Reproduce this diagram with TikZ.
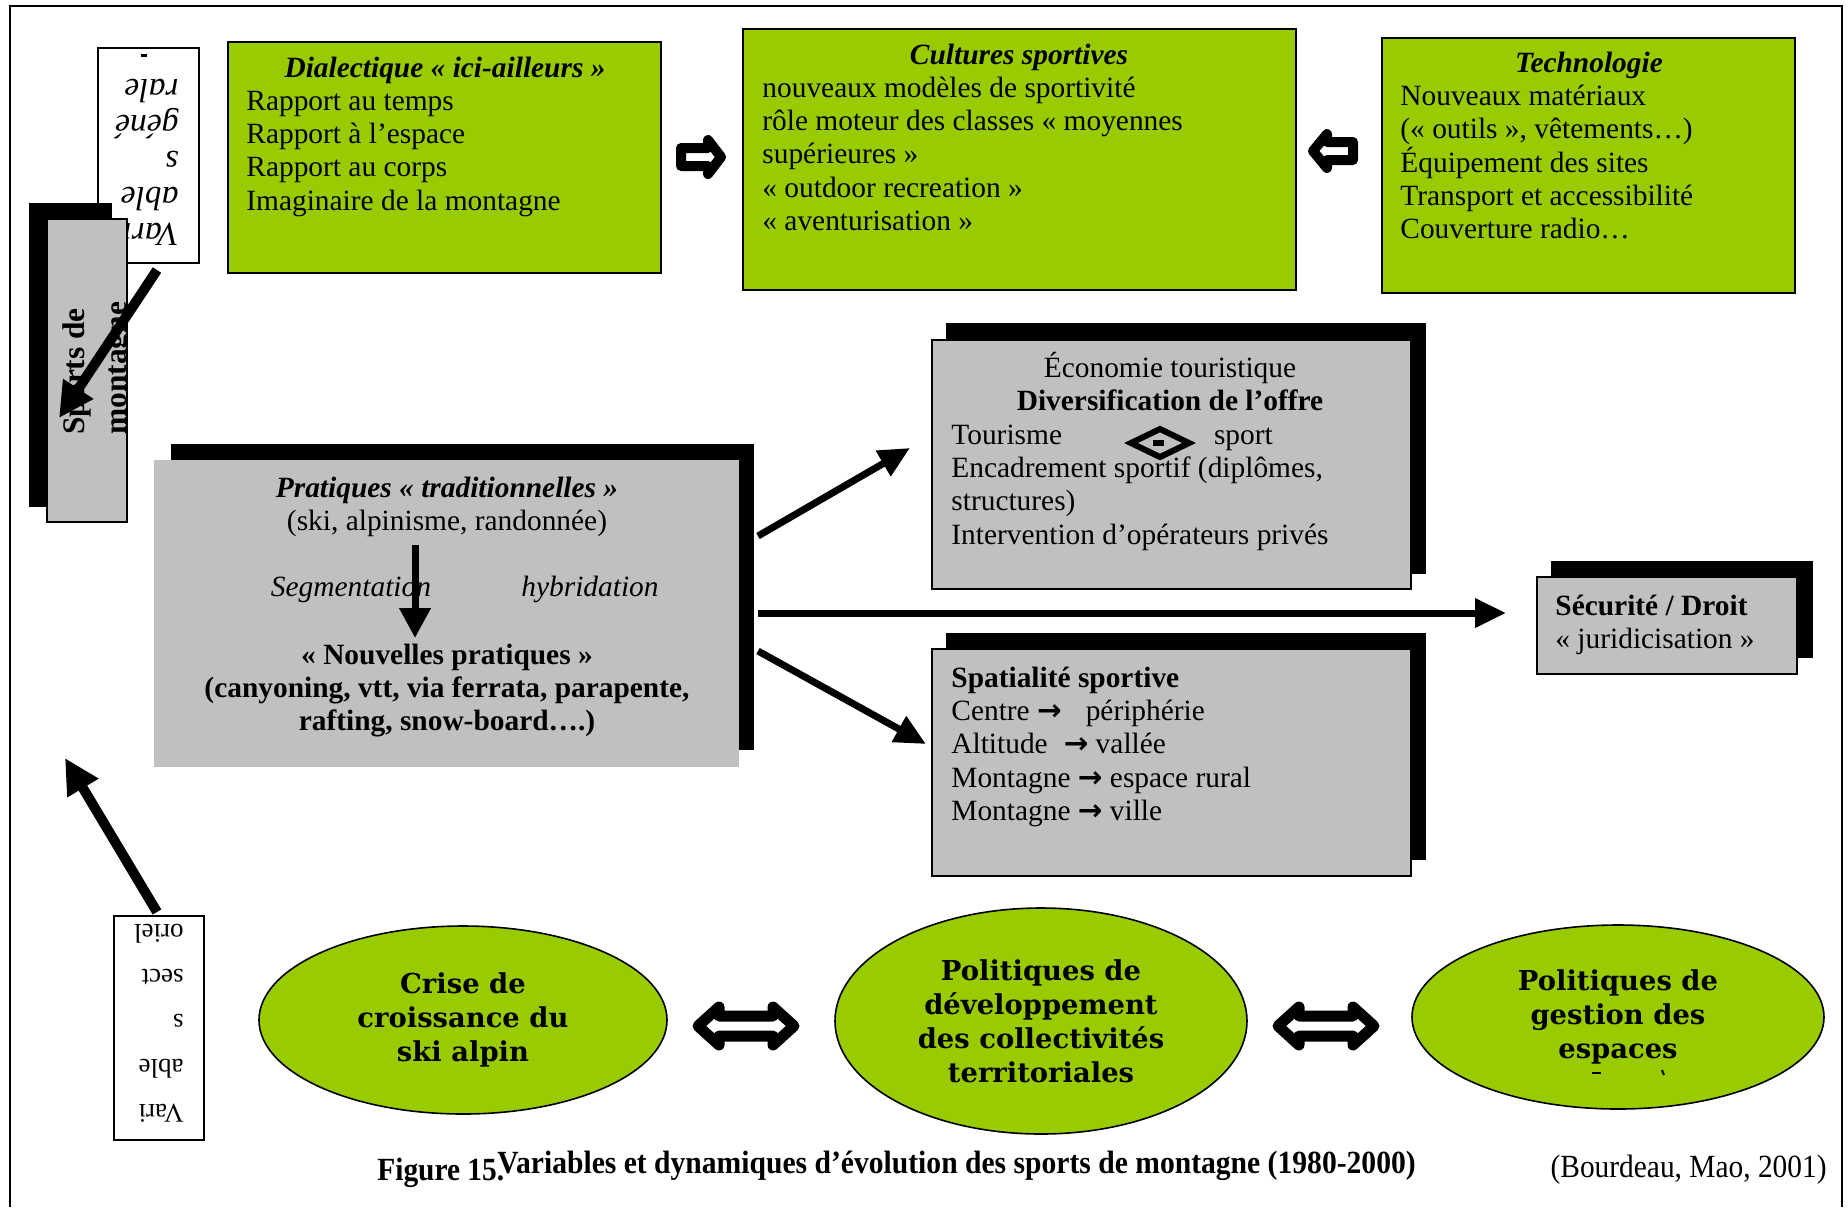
\documentclass[tikz,border=0pt]{standalone}
\usepackage{fontspec}
\setmainfont{Liberation Serif}
\newfontfamily\ellfont{DejaVu Serif}
\newfontfamily\arrfont{DejaVu Sans}
\usepackage{graphicx}
\usetikzlibrary{arrows.meta,shapes.geometric}
\definecolor{boxgreen}{RGB}{153,204,0}
\definecolor{boxgray}{RGB}{192,192,192}
\newcommand\bodysize{\fontsize{14.7}{16.6}\selectfont}
\newcommand\arr{{\arrfont\bfseries →}}
\newcommand\rectnode[6]{\node[#1, anchor=north west, inner sep=0pt, minimum width={(#5-#3)*0.5pt}, minimum height={(#6-#4)*0.5pt}] (#2) at (#3,#4) {};}
\tikzset{
  greenbox/.style={fill=boxgreen, draw=black, line width=0.9pt},
  graybox/.style={fill=boxgray, draw=black, line width=0.9pt},
  grayplain/.style={fill=boxgray},
  blackshadow/.style={fill=black},
  whitebox/.style={fill=white, draw=black, line width=0.9pt},
  txt/.style={inner sep=0pt, align=left, font=\bodysize},
  bitxt/.style={txt, font=\bodysize\bfseries\itshape},
  bftxt/.style={txt, font=\bodysize\bfseries},
  ittxt/.style={txt, font=\bodysize\itshape},
  ell/.style={ellipse, draw=black, fill=boxgreen, line width=0.8pt, inner sep=0pt, align=center,
    font=\ellfont\bfseries\fontsize{13.7}{17}\selectfont},
  blockarrow/.style={draw=black, fill=white, line join=round},
  fatarrow/.style={line width=3.5pt, -{Triangle[length=15.5pt,width=14pt]}},
  hugearrow/.style={line width=5pt, -{Triangle[length=17.5pt,width=17pt]}},
  captxt/.style={inner sep=0pt, font=\bodysize}
}
\begin{document}
\begin{tikzpicture}[x=0.5pt,y=-0.5pt]
\useasboundingbox (0,0) rectangle (1848,1207);
\fill[white] (0,0) rectangle (1848,1207);
\draw[line width=0.8pt] (10,1207) -- (10,6) -- (1842,6) -- (1842,1207);

% top green boxes
\rectnode{greenbox}{dial}{227}{41}{660}{272}
\rectnode{greenbox}{cult}{742}{28}{1295}{289}
\rectnode{greenbox}{tech}{1381}{37}{1794}{292}
\node[bitxt, anchor=base] (dialT) at (445,77) {Dialectique « ici-ailleurs »};
\node[txt, anchor=north west] (dialB) at (246,86.8) {\strut Rapport au temps\\Rapport à l’espace\\Rapport au corps\\Imaginaire de la montagne};
\node[bitxt, anchor=base] (cultT) at (1019,64) {Cultures sportives};
\node[txt, anchor=north west] (cultB) at (762,73.8) {\strut nouveaux modèles de sportivité\\rôle moteur des classes « moyennes\\supérieures »\\« outdoor recreation »\\« aventurisation »};
\node[bitxt, anchor=base] (techT) at (1589,72) {Technologie};
\node[txt, anchor=north west] (techB) at (1400,82) {\strut Nouveaux matériaux\\(« outils », vêtements…)\\Équipement des sites\\Transport et accessibilité\\Couverture radio…};

% block arrows between top boxes
\draw[blockarrow, line width=5pt] (681,148) -- (708,148) -- (708,140) -- (721,157) -- (708,174) -- (708,166) -- (681,166) -- cycle;
\draw[blockarrow, line width=5pt] (1353,142) -- (1327,142) -- (1327,134) -- (1313,151) -- (1327,168) -- (1327,160) -- (1353,160) -- cycle;

% white rotated box top-left
\rectnode{whitebox}{vg}{97}{47}{198}{262}
\node[rotate=180, anchor=north west, inner sep=0pt, align=left, font=\fontsize{16.8}{18}\selectfont\itshape] (vgT) at (179,249.2) {\strut Vari\\able\\s\\géné\\rale};
\fill (141,54) rectangle (147,57);

% Sports de montagne
\rectnode{blackshadow}{sportsS}{29}{203}{112}{507}
\rectnode{graybox}{sports}{46}{218}{126}{521}
\begin{scope}
\clip (sports.south west) rectangle (sports.north east);
\node[rotate=90, anchor=north west, inner sep=0pt, align=left, font=\fontsize{15.7}{21}\selectfont\bfseries] (sportsT) at (54.6,435) {\strut Sports de\\montagne};
\end{scope}
\coordinate (t1) at (157,270);
\coordinate (t2) at (59,418);
\draw[hugearrow] (t1) -- (t2);

% bottom-left white box
\rectnode{whitebox}{vs}{113}{915}{203}{1139}
\node[rotate=180, anchor=north west, inner sep=0pt, align=left, font=\fontsize{13.5}{22.6}\selectfont] (vsT) at (184,1137) {\strut Vari\\able\\s\\sect\\oriel};
\coordinate (b1) at (157,912);
\coordinate (b2) at (65,758);
\draw[hugearrow] (b1) -- (b2);

% Pratiques
\rectnode{blackshadow}{pratS}{171}{444}{754}{750}
\rectnode{grayplain}{prat}{154}{460}{739}{767}
\node[bitxt, anchor=base] (pratT) at (447,497) {Pratiques « traditionnelles »};
\node[txt, anchor=base] (pratA) at (447,530) {(ski, alpinisme, randonnée)};
\node[ittxt, anchor=base] (seg) at (351,596) {Segmentation};
\node[ittxt, anchor=base] (hyb) at (590,596) {hybridation};
\node[bftxt, anchor=base] (pratN) at (447,664) {« Nouvelles pratiques »};
\node[bftxt, anchor=base] (pratN2) at (447,697) {(canyoning, vtt, via ferrata, parapente,};
\node[bftxt, anchor=base] (pratN3) at (447,730) {rafting, snow-board….)};
\coordinate (p1) at (415,545);
\coordinate (p2) at (415,638);
\draw[line width=3.5pt, -{Triangle[length=15pt,width=15pt]}] (p1) -- (p2);

% Economie
\rectnode{blackshadow}{ecoS}{946}{323}{1426}{574}
\rectnode{graybox}{eco}{931}{339}{1410}{588}
\node[txt, anchor=base] (ecoT) at (1170,377) {Économie touristique};
\node[bftxt, anchor=base] (ecoT2) at (1170,410) {Diversification de l’offre};
\node[txt, anchor=north west] (ecoB) at (951,420.8) {\strut Tourisme\hspace{76pt}sport\\Encadrement sportif (diplômes,\\structures)\\Intervention d’opérateurs privés};
\draw[line width=3pt, line join=miter] (1131,443) -- (1160,429) -- (1189,443) -- (1160,457) -- cycle;
\fill (1153,440) rectangle (1164,446);

% Spatialite
\rectnode{blackshadow}{spatS}{946}{633}{1426}{860}
\rectnode{graybox}{spat}{931}{648}{1410}{875}
\node[txt, anchor=north west] (spatB) at (951,663.8) {\strut\textbf{Spatialité sportive}\\Centre \arr\hspace{12pt}périphérie\\Altitude\hspace{8pt}\arr{} vallée\\Montagne \arr{} espace rural\\Montagne \arr{} ville};

% Securite
\rectnode{blackshadow}{secuS}{1551}{561}{1813}{658}
\rectnode{graybox}{secu}{1536}{576}{1796}{673}
\node[txt, anchor=north west] (secuB) at (1555,591.8) {\strut\textbf{Sécurité / Droit}\\« juridicisation »};

% arrows from Pratiques
\coordinate (a1s) at (758,536);
\coordinate (a1e) at (910,448);
\coordinate (a2s) at (758,613);
\coordinate (a2e) at (1506,613);
\coordinate (a3s) at (758,651);
\coordinate (a3e) at (926,744);
\draw[fatarrow] (a1s) -- (a1e);
\draw[fatarrow] (a2s) -- (a2e);
\draw[fatarrow] (a3s) -- (a3e);

% ellipses
\node[ell, minimum width=204pt, minimum height=94pt] (e1) at (463,1020) {Crise de\\croissance du\\ski alpin};
\node[ell, minimum width=206pt, minimum height=113pt] (e2) at (1041,1021) {Politiques de\\développement\\des collectivités\\territoriales};
\node[ell, minimum width=206pt, minimum height=92pt] (e3) at (1618,1017) {Politiques de\\gestion des\\espaces};
\draw[line width=1pt] (1592,1073) -- (1601,1073);
\draw[line width=1pt] (1662,1070) -- (1664,1075);

% double block arrows
\draw[blockarrow, line width=5.5pt, shift={(746,1026)}] (-48,0) -- (-27,-19) -- (-27,-10) -- (27,-10) -- (27,-19) -- (48,0) -- (27,19) -- (27,10) -- (-27,10) -- (-27,19) -- cycle;
\draw[blockarrow, line width=5.5pt, shift={(1326,1026)}] (-48,0) -- (-27,-19) -- (-27,-10) -- (27,-10) -- (27,-19) -- (48,0) -- (27,19) -- (27,10) -- (-27,10) -- (-27,19) -- cycle;

% caption
\node[captxt, anchor=base west] (fig) at (377,1180) {\scalebox{1}[1.1]{\bfseries Figure 15.}};
\node[captxt, anchor=base west] (cap) at (497,1173) {\scalebox{1.007}[1.1]{\bfseries Variables et dynamiques d’évolution des sports de montagne (1980-2000)}};
\node[captxt, anchor=base east] (src) at (1827,1177) {\scalebox{1}[1.1]{(Bourdeau, Mao, 2001)}};
\end{tikzpicture}
\end{document}
